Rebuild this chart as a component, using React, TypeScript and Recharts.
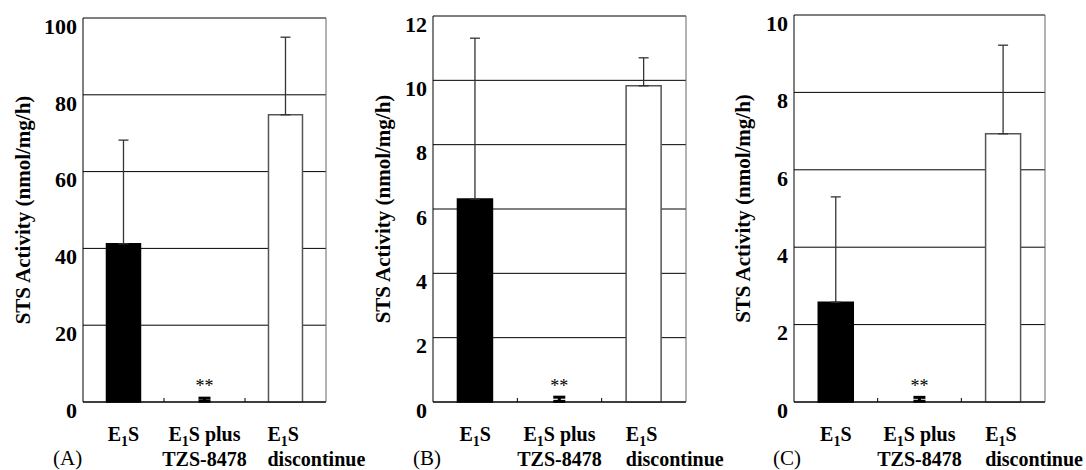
import React from 'react';
import { BarChart, Bar, XAxis, YAxis, CartesianGrid, ErrorBar, Cell, LabelList, Label } from 'recharts';

// categories, shared by the three panels
const categories = ['E₁S', 'E₁S plus\nTZS-8478', 'E₁S\ndiscontinue'];
const significance = ['', '**', ''];
const panelNames = ['(A)', '(B)', '(C)'];
const yAxisTitle = 'STS Activity (nmol/mg/h)';

// panel A
const meansA = [41.2, 0.2, 74.8];
const errorsA = [27.0, 0.8, 20.2];
const ticksA = [0, 20, 40, 60, 80, 100];

// panel B
const meansB = [6.31, 0.02, 9.83];
const errorsB = [5.0, 0.13, 0.87];
const ticksB = [0, 2, 4, 6, 8, 10, 12];

// panel C
const meansC = [2.58, 0.02, 6.93];
const errorsC = [2.72, 0.1, 2.29];
const ticksC = [0, 2, 4, 6, 8, 10];

const fills = ['#000000', 'none', '#ffffff'];
const strokes = ['#000000', 'none', '#555555'];

const serif = 'Liberation Serif, Times New Roman, serif';

const buildRows = (means: number[], errors: number[]) =>
  categories.map((name, i) => ({
    name,
    mean: means[i],
    err: significance[i] ? null : [0, errors[i]],
    errSmall: significance[i] ? [0, errors[i]] : null,
    sig: significance[i],
  }));

// draws "E₁S" with a real subscript 1
const renderLine = (line: string) => {
  const parts = line.split('₁');
  const out: React.ReactNode[] = [];
  parts.forEach((p, i) => {
    if (i > 0) {
      out.push(<tspan key={'s' + i} fontSize={14} dy={5}>1</tspan>);
      out.push(<tspan key={'p' + i} dy={-5}>{p}</tspan>);
    } else {
      out.push(<tspan key={'p' + i}>{p}</tspan>);
    }
  });
  return out;
};

const CategoryTick = (props: any) => {
  const { x, y, payload, index, width, visibleTicksCount } = props;
  const lines = String(payload.value).split('\n');
  const last = index === categories.length - 1;
  const band = width / (visibleTicksCount || categories.length);
  const tx = last ? x - 18 : x;
  return (
    <g>
      {!last && <line x1={x + band / 2} x2={x + band / 2} y1={y} y2={y - 4} stroke="#000" />}
      {lines.map((l, i) => (
        <text key={i} x={tx} y={y + 39 + i * 25} textAnchor={last ? 'start' : 'middle'} fontFamily={serif} fontWeight="bold" fontSize={20} fill="#000">
          {renderLine(l)}
        </text>
      ))}
    </g>
  );
};

interface PanelProps {
  means: number[];
  errors: number[];
  ticks: number[];
  name: string;
  left: number;
  width: number;
  axisWidth: number;
  top: number;
  right: number;
}

const Panel: React.FC<PanelProps> = ({ means, errors, ticks, name, left, width, axisWidth, top, right }) => {
  const data = buildRows(means, errors);
  const max = ticks[ticks.length - 1];
  return (
    <div style={{ position: 'absolute', left, top: 0 }}>
      <BarChart width={width} height={470} data={data} margin={{ top, right, bottom: 0, left: 0 }} barCategoryGap="29%">
        <CartesianGrid stroke="#000" horizontal vertical={false} />
        <XAxis
          dataKey="name"
          height={68}
          tickSize={0}
          tickMargin={0}
          tickLine={false}
          axisLine={{ stroke: '#000' }}
          tick={<CategoryTick />}
          interval={0}
        >
          <Label
            content={() => (
              <text x={53} y={465} fontFamily={serif} fontSize={21} fill="#000">{name}</text>
            )}
          />
        </XAxis>
        <YAxis
          domain={[0, max]}
          ticks={ticks}
          interval={0}
          width={axisWidth}
          tickSize={0}
          tickMargin={6}
          tickLine={false}
          axisLine={{ stroke: '#000' }}
          tick={{ fill: '#000', fontSize: 22, fontWeight: 'bold', fontFamily: serif, dy: 8 }}
        >
          <Label
            content={({ viewBox }: any) => {
              const cx = viewBox.x + 23;
              const cy = viewBox.y + viewBox.height / 2;
              return (
                <text x={cx} y={cy} transform={`rotate(-90 ${cx} ${cy})`} textAnchor="middle" dominantBaseline="central" fontFamily={serif} fontWeight="bold" fontSize={21} fill="#000">
                  {yAxisTitle}
                </text>
              );
            }}
          />
        </YAxis>
        <YAxis
          yAxisId="r"
          orientation="right"
          domain={[0, max]}
          width={1}
          tick={false}
          tickLine={false}
          axisLine={{ stroke: '#666' }}
        />
        <Bar dataKey="mean" isAnimationActive={false}>
          {data.map((_, i) => (
            <Cell key={i} fill={fills[i]} stroke={strokes[i]} strokeWidth={1.5} />
          ))}
          <ErrorBar dataKey="err" width={5} stroke="#333" strokeWidth={1.3} direction="y" />
          <ErrorBar dataKey="errSmall" width={6} stroke="#000" strokeWidth={3} direction="y" />
          <LabelList dataKey="sig" position="top" offset={9} fill="#000" fontSize={18} fontFamily={serif} />
        </Bar>
      </BarChart>
    </div>
  );
};

export default function App() {
  return (
    <div style={{ position: 'absolute', left: 0, top: 0, width: 1086, height: 470, background: '#fff', overflow: 'hidden' }}>
      <style>{'.recharts-surface { overflow: visible; } .recharts-wrapper { overflow: visible; }'}</style>
      <Panel means={meansA} errors={errorsA} ticks={ticksA} name={panelNames[0]} left={0} width={360} axisWidth={83} top={18} right={33} />
      <Panel means={meansB} errors={errorsB} ticks={ticksB} name={panelNames[1]} left={360} width={360} axisWidth={73} top={16} right={33} />
      <Panel means={meansC} errors={errorsC} ticks={ticksC} name={panelNames[2]} left={720} width={366} axisWidth={74} top={15} right={40} />
    </div>
  );
}
